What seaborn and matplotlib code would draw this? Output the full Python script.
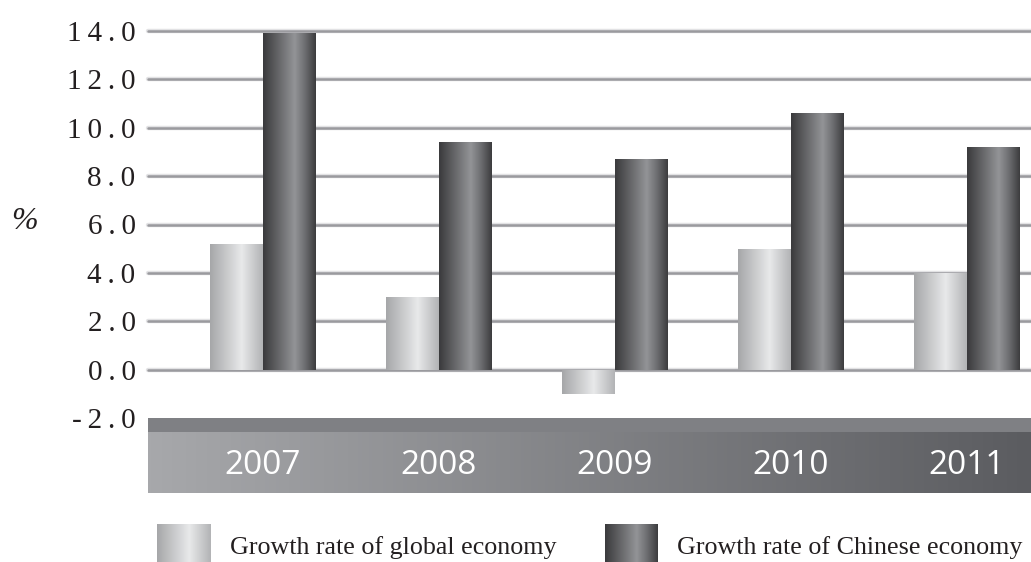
import numpy as np
import pandas as pd
import matplotlib
matplotlib.use("Agg")
import matplotlib.pyplot as plt
from matplotlib.colors import LinearSegmentedColormap
import seaborn as sns

# chart values
years = ["2007", "2008", "2009", "2010", "2011"]
global_growth = [5.2, 3.0, -1.0, 5.0, 4.0]
china_growth = [13.9, 9.4, 8.7, 10.6, 9.2]
series_names = ["Growth rate of global economy", "Growth rate of Chinese economy"]
y_ticks = [-2, 0, 2, 4, 6, 8, 10, 12, 14]

df = pd.DataFrame({
    "year": years * 2,
    "growth": global_growth + china_growth,
    "series": [series_names[0]] * len(years) + [series_names[1]] * len(years),
})

# gradient colour maps (cylinder look of the bars)
light_cmap = LinearSegmentedColormap.from_list(
    "light", [(0, "#a6a7a9"), (0.6, "#e8e9ea"), (1, "#b2b3b5")])
dark_cmap = LinearSegmentedColormap.from_list(
    "dark", [(0, "#3a3a3c"), (0.6, "#939497"), (0.78, "#707174"), (1, "#3c3c3e")])
band_cmap = LinearSegmentedColormap.from_list("band", ["#a7a8ab", "#5b5c60"])
grad = np.linspace(0, 1, 256).reshape(1, -1)

sns.set_theme(style="white")
plt.rcParams["font.family"] = ["Liberation Serif", "DejaVu Serif"]

fig = plt.figure(figsize=(10.31, 5.62), dpi=100)
ax = fig.add_axes([148 / 1031, 1 - 418 / 562, 883 / 1031, 387 / 562])

sns.barplot(data=df, x="year", y="growth", hue="series", order=years,
            hue_order=series_names, palette=["#d0d1d3", "#5a5b5e"],
            width=0.6, dodge=True, legend=False, ax=ax, zorder=3)

# replace flat fills with gradients clipped to each bar
for container, cmap in zip(ax.containers, [light_cmap, dark_cmap]):
    for bar in container:
        x0, y0 = bar.get_x(), bar.get_y()
        w, h = bar.get_width(), bar.get_height()
        im = ax.imshow(grad, cmap=cmap, aspect="auto", zorder=3,
                       extent=[x0, x0 + w, min(y0, y0 + h), max(y0, y0 + h)])
        im.set_clip_path(bar)
        bar.set_facecolor("none")
        bar.set_edgecolor("none")

ax.set_xlim(-0.653, 4.364)
ax.set_ylim(-2, 14)

# horizontal grid lines
for t in y_ticks[1:]:
    ax.axhline(t, color="#e2e2e4", lw=3.2, zorder=1, clip_on=False)
    ax.axhline(t, color="#9a9a9e", lw=1.8, zorder=1.1, clip_on=False)

# category band under the plot
px_unit = 387 / 16
strip = 14 / px_unit
band_bottom = -2 - 75 / px_unit
ax.imshow(grad, cmap=band_cmap, aspect="auto", zorder=0.5, clip_on=False,
          extent=[-0.653, 4.364, band_bottom, -2 - strip])
ax.axhspan(-2 - strip, -2, color="#7f8084", zorder=0.5, clip_on=False, lw=0)
ax.set_ylim(-2, 14)

for s in ax.spines.values():
    s.set_visible(False)

# tick labels are letter-spaced in the original
ax.set_yticks(y_ticks)
ax.set_yticklabels(["\u2009".join(f"{v:.1f}") for v in y_ticks])
ax.tick_params(axis="y", length=0, pad=9, labelsize=21, labelcolor="#231f20")
ax.tick_params(axis="x", length=0, pad=22, labelsize=24, labelcolor="white")
for lab in ax.get_xticklabels():
    lab.set_fontfamily("Open Sans")
ax.set_xlabel("")
ax.set_ylabel("%", rotation=0, fontsize=23, fontstyle="italic", color="#231f20",
              va="center", ha="center")
ax.yaxis.set_label_coords(-124 / 883, 0.508)

# legend swatches and labels at the bottom
for x_px, cmap, name, tx in [(157, light_cmap, series_names[0], 230),
                             (605, dark_cmap, series_names[1], 677)]:
    sw = fig.add_axes([x_px / 1031, 0, 53 / 1031, 38 / 562])
    sw.imshow(grad, cmap=cmap, aspect="auto")
    sw.axis("off")
    fig.text(tx / 1031, 1 - 554 / 562, name, fontsize=18.7, color="#231f20",
             va="baseline", ha="left")

fig.savefig("out.png", dpi=100)
